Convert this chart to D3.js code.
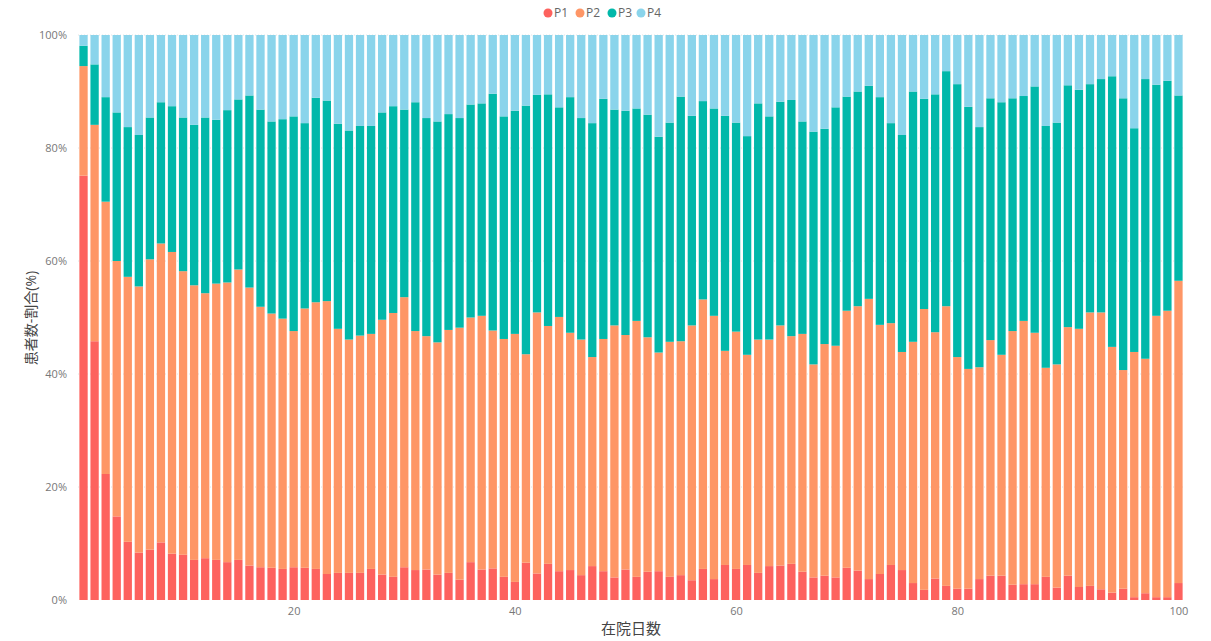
<!DOCTYPE html>
<html>
<head>
<meta charset="utf-8">
<script src="https://cdn.jsdelivr.net/npm/d3@7"></script>
<style>
  body { margin: 0; background: #fff; }
  text { font-family: "Open Sans", "Noto Sans CJK JP", sans-serif; }
</style>
</head>
<body>
<div id="chart"></div>
<script>
// days in hospital (1..100)
var days = d3.range(1, 101);
var seriesKeys = ["P1", "P2", "P3", "P4"];
var colors = ["#FD625E", "#FE9666", "#01B8AA", "#8AD4EB"];

// share of patients per day (%)
var p1 = [75.1,45.8,22.3,14.8,10.3,8.4,8.9,10.2,8.2,8.0, 7.1,7.4,7.1,6.7,7.1,6.1,5.8,5.7,5.5,5.8,
          5.7,5.5,4.6,4.8,4.8,4.8,5.5,4.5,4.1,5.8, 5.3,5.4,4.5,4.8,3.6,6.7,5.4,5.6,4.1,3.2,
          6.6,4.7,6.4,5.1,5.3,4.4,6.0,5.1,4.0,5.4, 4.1,5.0,5.1,4.1,4.4,3.5,5.5,3.7,6.2,5.5,
          6.2,4.8,6.0,6.1,6.4,5.0,4.0,4.3,4.0,5.7, 5.2,3.7,4.6,6.2,5.3,3.0,1.8,3.8,2.5,2.0,
          2.0,3.7,4.3,4.3,2.7,2.8,2.8,4.1,2.2,4.3, 2.3,2.5,1.9,1.3,2.0,0.5,1.2,0.5,0.5,3.0];
var p2 = [19.4,38.3,48.2,45.2,46.9,47.1,51.4,52.9,53.4,50.2, 48.6,46.9,48.9,49.5,51.4,49.2,46.1,45.0,44.3,41.8,
          45.9,47.2,48.3,43.2,41.3,42.0,41.6,45.1,46.7,47.8, 42.3,41.3,41.1,43.0,44.6,43.3,44.9,42.1,42.1,43.9,
          36.9,46.2,42.1,45.0,42.0,41.7,37.0,41.1,44.6,41.5, 45.3,41.5,38.7,41.6,41.4,45.1,47.7,46.6,37.9,42.0,
          37.2,41.3,40.1,42.5,40.3,42.1,37.7,41.0,41.0,45.5, 46.8,49.6,44.1,42.8,38.6,42.7,49.7,43.6,49.5,41.0,
          38.9,37.5,41.7,39.1,44.9,46.6,44.5,37.0,39.5,44.0, 45.7,48.4,49.0,43.5,38.7,43.4,41.5,49.8,50.7,53.5];
var p3 = [3.6,10.7,18.5,26.3,26.5,26.8,25.1,25.0,25.8,27.2, 28.4,31.1,29.0,30.5,30.1,34.0,34.9,34.0,35.3,38.0,
          32.8,36.2,35.5,36.3,37.0,37.1,36.8,36.7,36.6,33.2, 40.5,38.6,39.1,38.2,37.1,37.7,37.6,41.9,39.4,39.5,
          44.0,38.5,41.0,37.1,41.7,39.2,41.4,42.5,38.2,39.7, 37.6,39.4,38.2,38.8,43.3,37.1,35.1,36.7,41.6,37.0,
          38.7,41.8,39.5,39.6,41.8,37.6,41.2,38.1,42.2,37.9, 38.0,37.7,40.3,35.4,38.4,44.3,37.2,42.1,41.6,48.3,
          46.4,42.5,42.8,44.7,41.2,39.8,43.6,42.8,42.8,42.8, 42.3,40.4,41.3,47.9,48.1,39.6,49.5,40.9,40.7,32.8];
var p4 = [1.9,5.2,11.0,13.7,16.3,17.7,14.6,11.9,12.6,14.6, 15.9,14.6,15.0,13.3,11.4,10.7,13.2,15.3,14.9,14.4,
          15.6,11.1,11.6,15.7,16.9,16.1,16.1,13.7,12.6,13.2, 11.9,14.7,15.3,14.0,14.7,12.3,12.1,10.4,14.4,13.4,
          12.5,10.6,10.5,12.8,11.0,14.7,15.6,11.3,13.2,13.4, 13.0,14.1,18.0,15.5,10.9,14.3,11.7,13.0,14.3,15.5,
          17.9,12.1,14.4,11.8,11.5,15.3,17.1,16.6,12.8,10.9, 10.0,9.0,11.0,15.6,17.7,10.0,11.3,10.5,6.4,8.7,
          12.7,16.3,11.2,11.9,11.2,10.8,9.1,16.1,15.5,8.9, 9.7,8.7,7.8,7.3,11.2,16.5,7.8,8.8,8.1,10.7];

var yTicks = [0, 0.2, 0.4, 0.6, 0.8, 1];
var xTicks = [20, 40, 60, 80, 100];

var width = 1211, height = 641;
var margin = {top: 35, right: 27, bottom: 41, left: 78};

var svg = d3.select("#chart").append("svg")
    .attr("width", width)
    .attr("height", height);

// build rows for the stack
var rows = days.map(function(d, i) {
    return {day: d, P1: p1[i], P2: p2[i], P3: p3[i], P4: p4[i]};
});
var stacked = d3.stack().keys(seriesKeys).offset(d3.stackOffsetExpand)(rows);

var x = d3.scaleLinear()
    .domain([0.5, 100.5])
    .range([margin.left, width - margin.right]);
var y = d3.scaleLinear()
    .domain([0, 1])
    .range([height - margin.bottom, margin.top]);

var barW = (x(2) - x(1)) * 0.75;

// grid lines
svg.append("g").selectAll("line")
    .data(yTicks.slice(1))
    .enter().append("line")
    .attr("x1", margin.left).attr("x2", width - margin.right)
    .attr("y1", function(d) { return y(d); })
    .attr("y2", function(d) { return y(d); })
    .attr("stroke", "#e4e4e4")
    .attr("stroke-dasharray", "1,2");

// bars
svg.append("g").selectAll("g")
    .data(stacked)
    .enter().append("g")
    .attr("fill", function(d, i) { return colors[i]; })
    .selectAll("rect")
    .data(function(d) { return d; })
    .enter().append("rect")
    .attr("x", function(d) { return x(d.data.day) - barW / 2; })
    .attr("width", barW)
    .attr("y", function(d) { return y(d[1]); })
    .attr("height", function(d) { return y(d[0]) - y(d[1]); });

// y axis
var yAxis = svg.append("g")
    .attr("transform", "translate(" + (margin.left - 8) + ",0)")
    .call(d3.axisLeft(y).tickValues(yTicks).tickFormat(d3.format(".0%")).tickSize(0));
yAxis.select(".domain").remove();
yAxis.selectAll("text")
    .attr("fill", "#777")
    .style("font-size", "11px");

// x axis
var xAxis = svg.append("g")
    .attr("transform", "translate(0," + (height - margin.bottom + 4) + ")")
    .call(d3.axisBottom(x).tickValues(xTicks).tickSize(0));
xAxis.select(".domain").remove();
xAxis.selectAll("text")
    .attr("fill", "#777")
    .style("font-size", "11px");

// axis titles
svg.append("text")
    .attr("transform", "translate(36," + 318 + ") rotate(-90)")
    .attr("text-anchor", "middle")
    .attr("fill", "#444")
    .style("font-size", "14px")
    .text("患者数-割合(%)");

svg.append("text")
    .attr("x", 631)
    .attr("y", 634)
    .attr("text-anchor", "middle")
    .attr("fill", "#444")
    .style("font-size", "15px")
    .text("在院日数");

// legend
var legendX = [548, 580, 612, 641];
var legend = svg.append("g").selectAll("g")
    .data(seriesKeys)
    .enter().append("g")
    .attr("transform", function(d, i) { return "translate(" + legendX[i] + ",13)"; });
legend.append("circle")
    .attr("r", 4.5)
    .attr("fill", function(d, i) { return colors[i]; });
legend.append("text")
    .attr("x", 6)
    .attr("dy", "0.35em")
    .attr("fill", "#666")
    .style("font-size", "12px")
    .text(function(d) { return d; });
</script>
</body>
</html>
